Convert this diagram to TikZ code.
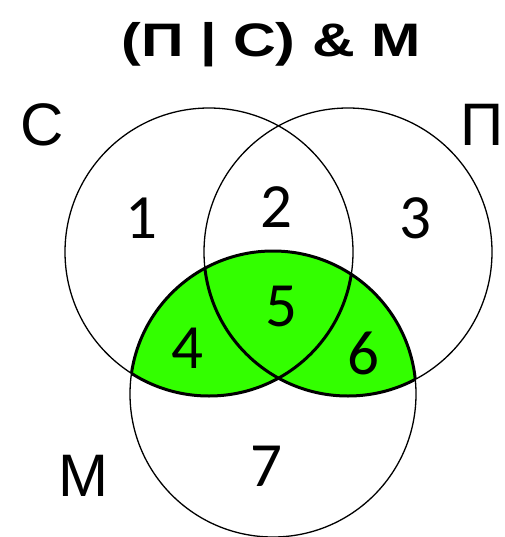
\documentclass[tikz,border=0pt]{standalone}
\usepackage{fontspec}
\setmainfont{Liberation Sans}
\newfontfamily\digitfont{Carlito}
\definecolor{vgreen}{RGB}{51,255,0}
\begin{document}
\begin{tikzpicture}[x=1pt,y=-1pt,
  thinline/.style={line width=1.3pt},
  thickline/.style={line width=3pt},
  setlabel/.style={font=\fontsize{60}{60}\selectfont, inner sep=0pt},
  numlabel/.style={font=\digitfont\fontsize{63}{63}\selectfont, inner sep=0pt},
  titlelabel/.style={font=\bfseries\fontsize{47}{47}\selectfont, inner sep=0pt, anchor=base, xscale=1.26}]
\useasboundingbox (0,0) rectangle (504,537);
\coordinate (cC) at (209,252);
\coordinate (cP) at (348,252);
\coordinate (cM) at (273,394);
\def\rC{144}
\def\rM{143}
% green region: M and (C or P)
\begin{scope}
  \clip (cM) circle[radius=\rM];
  \fill[vgreen] (cC) circle[radius=\rC] (cP) circle[radius=\rC];
\end{scope}
% thin circles
\draw[thinline] (cC) circle[radius=\rC];
\draw[thinline] (cP) circle[radius=\rC];
\draw[thinline] (cM) circle[radius=\rM];
% thick boundaries of green region
\begin{scope}
  \clip (cM) circle[radius=\rM];
  \draw[thickline] (cC) circle[radius=\rC];
  \draw[thickline] (cP) circle[radius=\rC];
\end{scope}
\begin{scope}
  \clip (cC) circle[radius=\rC] (cP) circle[radius=\rC];
  \draw[thickline] (cM) circle[radius=\rM];
\end{scope}
% labels
\node[titlelabel] (title) at (271,57) {(П | С) \& М};
\node[setlabel] (lC) at (42,125) {С};
\node[setlabel] (lP) at (482,125) {П};
\node[setlabel] (lM) at (83,476) {М};
\node[numlabel] (n1) at (141,218) {1};
\node[numlabel] (n2) at (276,207) {2};
\node[numlabel] (n3) at (415,218) {3};
\node[numlabel] (n4) at (187,348) {4};
\node[numlabel] (n5) at (281,307) {5};
\node[numlabel] (n6) at (363,353) {6};
\node[numlabel] (n7) at (266,466) {7};
\end{tikzpicture}
\end{document}
